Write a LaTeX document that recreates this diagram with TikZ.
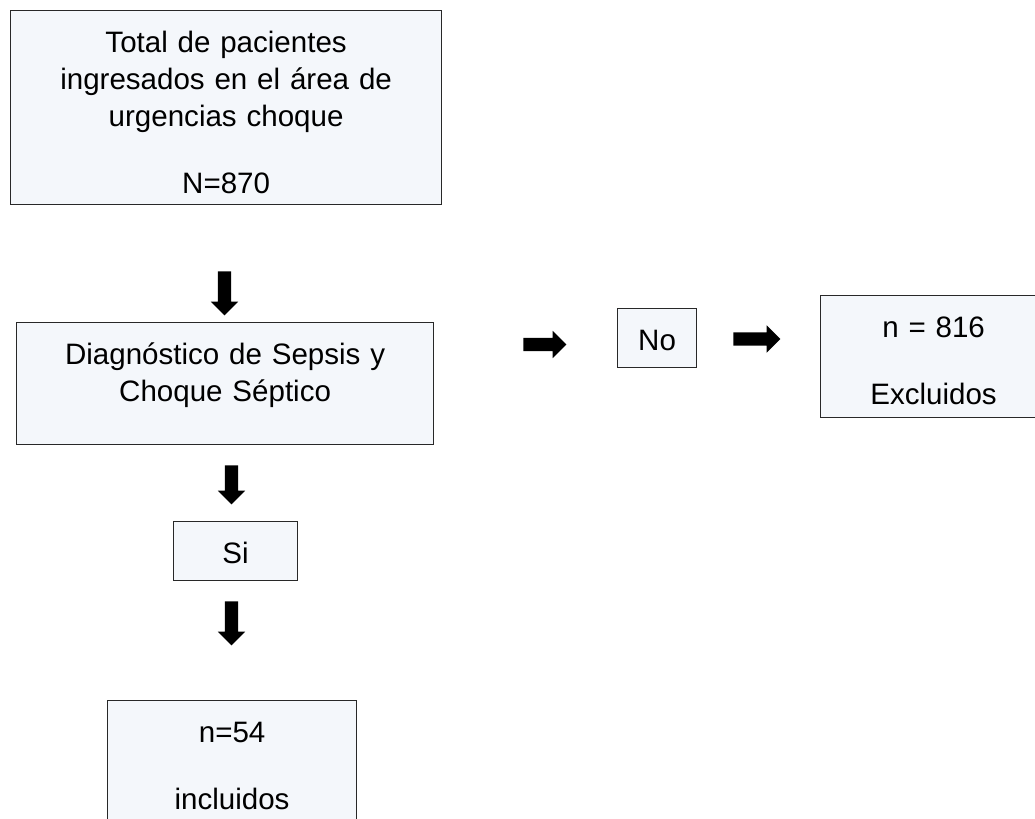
\documentclass[tikz,border=0pt]{standalone}
\usepackage{fontspec}
\setmainfont{Liberation Sans}
\setsansfont{Liberation Sans}
\RequirePackage{xcolor}
\definecolor{boxfill}{RGB}{244,247,251}
\definecolor{boxline}{RGB}{40,40,40}
\tikzset{every picture/.style={/utils/exec={\sffamily}}}
\usetikzlibrary{shapes.arrows}
\tikzset{
  flowbox/.style 2 args={draw=boxline, line width=0.8pt, fill=boxfill,
    anchor=north west, inner xsep=0pt, inner ysep=0pt, align=center,
    font=\fontsize{21pt}{0.925cm}\selectfont,
    text width=#1, text height=1.05cm, text depth=#2},
  blockarrow/.style={single arrow, fill=black, draw=none,
    inner xsep=0pt, inner ysep=0.16cm,
    single arrow head extend=0.175cm, single arrow head indent=0pt}
}

\begin{document}
\begin{tikzpicture}[x=0.025cm, y=-0.025cm]
  \useasboundingbox (0,0) rectangle (1035,819);
  \clip (0,0) rectangle (1035,819);

  % left column
  \node[flowbox={10.775cm}{3.8cm}] (ntotal) at (10,10)
    {Total de pacientes\\ ingresados en el área de\\ urgencias choque\\[0.75cm] N=870};
  \node[flowbox={10.425cm}{2cm}] (ndiag) at (16,322)
    {Diagnóstico de Sepsis y\\ Choque Séptico};
  \node[flowbox={3.1cm}{0.425cm}] (nsi) at (173,521) {Si};
  \node[flowbox={6.225cm}{2.6cm}] (nincl) at (107,700)
    {n=54\\[0.75cm] incluidos};

  % right branch
  \node[flowbox={1.975cm}{0.425cm}] (nno) at (617,308) {No};
  \node[flowbox={5.65cm}{2cm}] (nexcl) at (820,295)
    {n = 816\\[0.75cm] Excluidos};

  % block arrows
  \node[blockarrow, rotate=-90, minimum height=1.1cm] (aa) at (224.5,290) {};
  \node[blockarrow, rotate=-90, minimum height=0.975cm] (ab) at (231.5,481.5) {};
  \node[blockarrow, rotate=-90, minimum height=1.1cm] (ac) at (231.5,620) {};
  \node[blockarrow, minimum height=1.075cm] (ad) at (541.5,344.5) {};
  \node[blockarrow, minimum height=1.175cm] (ae) at (753.5,339) {};

\end{tikzpicture}
\end{document}
